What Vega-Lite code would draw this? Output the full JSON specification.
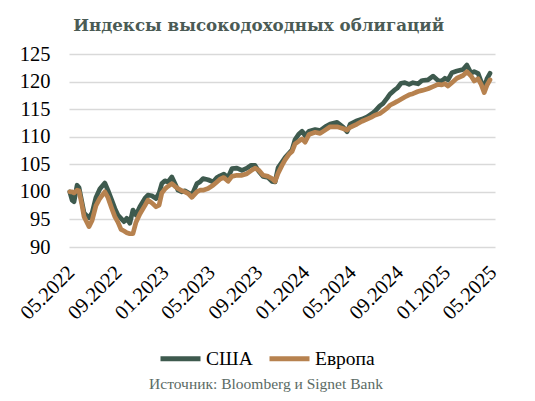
{
  "$schema": "https://vega.github.io/schema/vega-lite/v6.json",
  "width": 426,
  "height": 193,
  "autosize": {"type": "none"},
  "padding": {"left": 69, "top": 54, "right": 40, "bottom": 154},
  "background": "white",
  "title": {
    "text": "Индексы высокодоходных облигаций",
    "font": "DejaVu Serif",
    "fontSize": 16.7,
    "fontWeight": "bold",
    "color": "#4b5b55",
    "anchor": "middle",
    "frame": "bounds",
    "offset": 9.5
  },
  "config": {
    "view": {"stroke": null},
    "font": "Liberation Serif"
  },
  "data": {
    "values": [
      {"d": "2022-04-28", "США": 100, "Европа": 100},
      {"d": "2022-05-04", "США": 98.5, "Европа": 100},
      {"d": "2022-05-09", "США": 98.2, "Европа": 99.8},
      {"d": "2022-05-17", "США": 101.2, "Европа": 100.3},
      {"d": "2022-05-22", "США": 100.8, "Европа": 100.2},
      {"d": "2022-05-30", "США": 98.0, "Европа": 97.5},
      {"d": "2022-06-04", "США": 96.2, "Европа": 95.5},
      {"d": "2022-06-09", "США": 95.8, "Европа": 94.8},
      {"d": "2022-06-17", "США": 95.3, "Европа": 93.7},
      {"d": "2022-06-25", "США": 96.2, "Европа": 94.8},
      {"d": "2022-07-05", "США": 99.0, "Европа": 97.5},
      {"d": "2022-07-15", "США": 100.5, "Европа": 98.8},
      {"d": "2022-07-28", "США": 101.6, "Европа": 100.0},
      {"d": "2022-08-05", "США": 100.3, "Европа": 99.0},
      {"d": "2022-08-15", "США": 98.5, "Европа": 97.0},
      {"d": "2022-08-23", "США": 97.0, "Европа": 95.5},
      {"d": "2022-08-31", "США": 95.8, "Европа": 94.5},
      {"d": "2022-09-08", "США": 95.2, "Европа": 93.2},
      {"d": "2022-09-16", "США": 94.6, "Европа": 92.9},
      {"d": "2022-09-23", "США": 95.2, "Европа": 92.6},
      {"d": "2022-10-01", "США": 94.3, "Европа": 92.4},
      {"d": "2022-10-09", "США": 96.7, "Европа": 92.4},
      {"d": "2022-10-17", "США": 95.8, "Европа": 94.5},
      {"d": "2022-10-27", "США": 97.3, "Европа": 96.0},
      {"d": "2022-11-09", "США": 98.8, "Европа": 97.5},
      {"d": "2022-11-17", "США": 99.4, "Европа": 98.5},
      {"d": "2022-11-27", "США": 99.3, "Европа": 98.0},
      {"d": "2022-12-08", "США": 98.8, "Европа": 97.3},
      {"d": "2022-12-16", "США": 99.8, "Европа": 97.6},
      {"d": "2022-12-23", "США": 101.5, "Европа": 99.8},
      {"d": "2022-12-31", "США": 102.0, "Европа": 100.5},
      {"d": "2023-01-08", "США": 101.8, "Европа": 101.0},
      {"d": "2023-01-18", "США": 102.7, "Европа": 101.5},
      {"d": "2023-01-26", "США": 101.5, "Европа": 101.0},
      {"d": "2023-02-03", "США": 100.3, "Европа": 100.6},
      {"d": "2023-02-13", "США": 100.0, "Европа": 100.2},
      {"d": "2023-02-21", "США": 100.2, "Европа": 100.0},
      {"d": "2023-03-03", "США": 99.8, "Европа": 99.6},
      {"d": "2023-03-11", "США": 99.4, "Европа": 99.0},
      {"d": "2023-03-24", "США": 101.5, "Европа": 100.0},
      {"d": "2023-04-01", "США": 101.8, "Европа": 100.3},
      {"d": "2023-04-09", "США": 102.4, "Европа": 100.3},
      {"d": "2023-04-22", "США": 102.2, "Европа": 100.6},
      {"d": "2023-05-05", "США": 101.8, "Европа": 101.2},
      {"d": "2023-05-15", "США": 102.6, "Европа": 101.8},
      {"d": "2023-05-23", "США": 102.9, "Европа": 102.3},
      {"d": "2023-06-02", "США": 103.2, "Европа": 102.6},
      {"d": "2023-06-13", "США": 102.6, "Европа": 101.9},
      {"d": "2023-06-23", "США": 104.2, "Европа": 102.8},
      {"d": "2023-07-06", "США": 104.3, "Европа": 103.0},
      {"d": "2023-07-19", "США": 103.9, "Европа": 103.0},
      {"d": "2023-08-01", "США": 104.3, "Европа": 103.3},
      {"d": "2023-08-11", "США": 104.8, "Европа": 103.8},
      {"d": "2023-08-22", "США": 104.8, "Европа": 104.3},
      {"d": "2023-09-01", "США": 103.7, "Европа": 103.9},
      {"d": "2023-09-12", "США": 102.8, "Европа": 103.0},
      {"d": "2023-09-25", "США": 102.6, "Европа": 102.8},
      {"d": "2023-10-05", "США": 101.9, "Европа": 102.4},
      {"d": "2023-10-13", "США": 101.8, "Европа": 101.9},
      {"d": "2023-10-21", "США": 104.4, "Европа": 103.4},
      {"d": "2023-10-31", "США": 105.4, "Европа": 104.8},
      {"d": "2023-11-08", "США": 106.2, "Европа": 105.8},
      {"d": "2023-11-18", "США": 107.0, "Европа": 106.8},
      {"d": "2023-11-26", "США": 107.6, "Европа": 107.3},
      {"d": "2023-12-04", "США": 109.5, "Европа": 108.7},
      {"d": "2023-12-14", "США": 110.5, "Европа": 109.2},
      {"d": "2023-12-22", "США": 111.0, "Европа": 109.6},
      {"d": "2023-12-30", "США": 110.2, "Европа": 109.0},
      {"d": "2024-01-09", "США": 111.0, "Европа": 110.4},
      {"d": "2024-01-25", "США": 111.3, "Европа": 110.8},
      {"d": "2024-02-07", "США": 111.1, "Европа": 110.6},
      {"d": "2024-02-20", "США": 111.8, "Европа": 111.2},
      {"d": "2024-03-04", "США": 112.3, "Европа": 111.8},
      {"d": "2024-03-22", "США": 112.6, "Европа": 111.8},
      {"d": "2024-04-06", "США": 111.8, "Европа": 111.5},
      {"d": "2024-04-17", "США": 110.9, "Европа": 111.2},
      {"d": "2024-04-25", "США": 112.3, "Европа": 111.7},
      {"d": "2024-05-13", "США": 112.9, "Европа": 112.3},
      {"d": "2024-05-26", "США": 113.2, "Европа": 112.8},
      {"d": "2024-06-08", "США": 113.6, "Европа": 113.2},
      {"d": "2024-06-21", "США": 114.2, "Европа": 113.6},
      {"d": "2024-06-28", "США": 114.6, "Европа": 113.9},
      {"d": "2024-07-11", "США": 115.6, "Европа": 114.2},
      {"d": "2024-07-19", "США": 116.0, "Европа": 114.6},
      {"d": "2024-07-30", "США": 117.0, "Европа": 115.2},
      {"d": "2024-08-06", "США": 117.7, "Европа": 115.7},
      {"d": "2024-08-17", "США": 118.4, "Европа": 116.1},
      {"d": "2024-08-25", "США": 118.8, "Европа": 116.4},
      {"d": "2024-09-04", "США": 119.7, "Европа": 116.8},
      {"d": "2024-09-14", "США": 119.8, "Европа": 117.2},
      {"d": "2024-09-25", "США": 119.5, "Европа": 117.6},
      {"d": "2024-10-05", "США": 119.8, "Европа": 117.8},
      {"d": "2024-10-18", "США": 119.6, "Европа": 118.2},
      {"d": "2024-10-29", "США": 120.2, "Европа": 118.4},
      {"d": "2024-11-13", "США": 120.3, "Европа": 118.7},
      {"d": "2024-11-26", "США": 121.0, "Европа": 119.1},
      {"d": "2024-12-09", "США": 120.2, "Европа": 119.5},
      {"d": "2024-12-19", "США": 120.1, "Европа": 119.4},
      {"d": "2024-12-27", "США": 120.6, "Европа": 119.6},
      {"d": "2025-01-04", "США": 120.3, "Европа": 119.2},
      {"d": "2025-01-14", "США": 121.6, "Европа": 119.8},
      {"d": "2025-01-27", "США": 121.9, "Европа": 120.6},
      {"d": "2025-02-12", "США": 122.2, "Европа": 121.1},
      {"d": "2025-02-22", "США": 123.0, "Европа": 121.8},
      {"d": "2025-03-05", "США": 121.5, "Европа": 121.0},
      {"d": "2025-03-13", "США": 121.8, "Европа": 120.1},
      {"d": "2025-03-23", "США": 121.5, "Европа": 120.5},
      {"d": "2025-03-31", "США": 120.0, "Европа": 119.5},
      {"d": "2025-04-08", "США": 118.8, "Европа": 118.0},
      {"d": "2025-04-15", "США": 120.5, "Европа": 119.3},
      {"d": "2025-04-23", "США": 121.5, "Европа": 120.3}
    ]
  },
  "transform": [{"fold": ["США", "Европа"], "as": ["series", "value"]}],
  "encoding": {
    "x": {
      "field": "d",
      "type": "temporal",
      "scale": {"domain": ["2022-04-26", "2025-05-06"]},
      "axis": {
        "title": null,
        "grid": false,
        "domain": false,
        "ticks": false,
        "values": ["2022-05-01", "2022-09-01", "2023-01-01", "2023-05-01", "2023-09-01", "2024-01-01", "2024-05-01", "2024-09-01", "2025-01-01", "2025-05-01"],
        "format": "%m.%Y",
        "labelAngle": -45,
        "labelAlign": "right",
        "labelBaseline": "middle",
        "labelPadding": 22,
        "labelFont": "Liberation Serif",
        "labelFontSize": 20.5,
        "labelColor": "#000000",
        "labelOverlap": false,
        "labelFlush": false
      }
    },
    "y": {
      "field": "value",
      "type": "quantitative",
      "scale": {"domain": [90, 125], "nice": false, "zero": false},
      "axis": {
        "title": null,
        "values": [90, 95, 100, 105, 110, 115, 120, 125],
        "domain": false,
        "ticks": false,
        "gridColor": "#d9d9d9",
        "gridWidth": 1.6,
        "labelFont": "Liberation Serif",
        "labelFontSize": 20.5,
        "labelColor": "#000000",
        "labelPadding": 19
      }
    },
    "color": {
      "field": "series",
      "type": "nominal",
      "scale": {"domain": ["США", "Европа"], "range": ["#3e5a4e", "#b7824f"]},
      "legend": {
        "title": "Источник: Bloomberg и Signet Bank",
        "orient": "none",
        "legendX": 80,
        "legendY": 282,
        "direction": "horizontal",
        "titleOrient": "bottom",
        "titleAnchor": "middle",
        "titleLimit": 500,
        "titleFont": "Liberation Serif",
        "titleFontSize": 15.5,
        "titleFontWeight": "normal",
        "titleColor": "#5b6b65",
        "titlePadding": 8,
        "symbolType": "stroke",
        "symbolStrokeWidth": 5,
        "symbolSize": 1600,
        "labelFont": "Liberation Serif",
        "labelFontSize": 19.5,
        "labelColor": "#000000",
        "labelOffset": 3,
        "columnPadding": 6
      }
    }
  },
  "layer": [
    {
      "transform": [{"filter": "datum.series === 'США'"}],
      "mark": {"type": "line", "strokeWidth": 4.7, "strokeJoin": "round", "strokeCap": "round"}
    },
    {
      "transform": [{"filter": "datum.series === 'Европа'"}],
      "mark": {"type": "line", "strokeWidth": 4.7, "strokeJoin": "round", "strokeCap": "round"}
    }
  ]
}
